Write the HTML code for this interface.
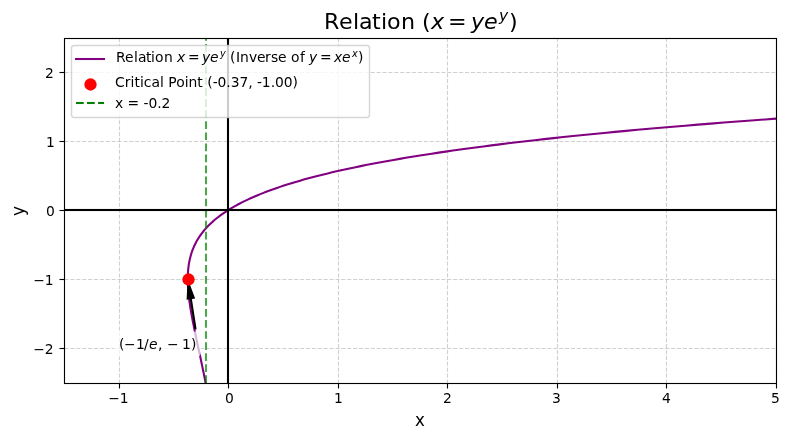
<!DOCTYPE html>
<html lang="en">
<head>
<meta charset="utf-8">
<title>Relation (x = ye^y)</title>
<style>
html, body { margin: 0; padding: 0; background: #ffffff; }
body { width: 790px; height: 440px; overflow: hidden; }
svg { display: block; }
text { white-space: pre; }
</style>
</head>
<body>
<svg width="790" height="440" viewBox="0 0 790 440" font-family="'DejaVu Sans', 'Liberation Sans', sans-serif" fill="#000000">
<rect width="790" height="440" fill="#ffffff"/>
<g class="grid" fill="none" stroke="#b0b0b0" stroke-opacity="0.6" stroke-width="1.111" stroke-dasharray="4.111 1.778">
<path d="M119.5 383.5V38.5"/>
<path d="M228.5 383.5V38.5"/>
<path d="M338.5 383.5V38.5"/>
<path d="M447.5 383.5V38.5"/>
<path d="M557.5 383.5V38.5"/>
<path d="M666.5 383.5V38.5"/>
<path d="M776.5 383.5V38.5"/>
<path d="M64.5 348.5H776.5"/>
<path d="M64.5 279.5H776.5"/>
<path d="M64.5 210.5H776.5"/>
<path d="M64.5 141.5H776.5"/>
<path d="M64.5 72.5H776.5"/>
</g>
<svg class="plot" x="64" y="38" width="712" height="345" viewBox="64 38 712 345" overflow="hidden">
<path class="curve" d="M208.912 400.62L208.728 399.583L208.543 398.545L208.356 397.507L208.169 396.47L207.98 395.432L207.79 394.395L207.599 393.357L207.407 392.32L207.213 391.282L207.019 390.245L206.823 389.207L206.627 388.169L206.429 387.132L206.23 386.094L206.03 385.057L205.829 384.019L205.627 382.982L205.424 381.944L205.22 380.906L205.015 379.869L204.809 378.831L204.602 377.794L204.394 376.756L204.185 375.719L203.976 374.681L203.765 373.644L203.554 372.606L203.341 371.568L203.128 370.531L202.915 369.493L202.7 368.456L202.485 367.418L202.269 366.381L202.052 365.343L201.834 364.306L201.616 363.268L201.398 362.23L201.179 361.193L200.959 360.155L200.739 359.118L200.518 358.08L200.297 357.043L200.076 356.005L199.854 354.967L199.632 353.93L199.41 352.892L199.187 351.855L198.965 350.817L198.742 349.78L198.519 348.742L198.296 347.705L198.073 346.667L197.851 345.629L197.628 344.592L197.406 343.554L197.183 342.517L196.961 341.479L196.74 340.442L196.519 339.404L196.298 338.367L196.078 337.329L195.859 336.291L195.64 335.254L195.422 334.216L195.205 333.179L194.988 332.141L194.773 331.104L194.559 330.066L194.346 329.028L194.134 327.991L193.923 326.953L193.714 325.916L193.507 324.878L193.301 323.841L193.096 322.803L192.894 321.766L192.693 320.728L192.494 319.69L192.298 318.653L192.103 317.615L191.911 316.578L191.722 315.54L191.535 314.503L191.35 313.465L191.169 312.427L190.99 311.39L190.814 310.352L190.642 309.315L190.473 308.277L190.307 307.24L190.145 306.202L189.987 305.165L189.832 304.127L189.682 303.089L189.536 302.052L189.394 301.014L189.257 299.977L189.124 298.939L188.997 297.902L188.874 296.864L188.757 295.827L188.645 294.789L188.539 293.751L188.438 292.714L188.344 291.676L188.256 290.639L188.174 289.601L188.099 288.564L188.031 287.526L187.97 286.488L187.916 285.451L187.87 284.413L187.832 283.376L187.802 282.338L187.78 281.301L187.766 280.263L187.762 279.226L187.767 278.188L187.781 277.15L187.804 276.113L187.838 275.075L187.882 274.038L187.936 273L188.001 271.963L188.078 270.925L188.166 269.888L188.266 268.85L188.378 267.812L188.502 266.775L188.64 265.737L188.791 264.7L188.955 263.662L189.133 262.625L189.326 261.587L189.533 260.549L189.756 259.512L189.994 258.474L190.248 257.437L190.519 256.399L190.806 255.362L191.111 254.324L191.434 253.287L191.775 252.249L192.135 251.211L192.513 250.174L192.912 249.136L193.331 248.099L193.77 247.061L194.231 246.024L194.714 244.986L195.219 243.948L195.747 242.911L196.299 241.873L196.874 240.836L197.475 239.798L198.101 238.761L198.753 237.723L199.431 236.686L200.137 235.648L200.87 234.61L201.633 233.573L202.424 232.535L203.246 231.498L204.098 230.46L204.982 229.423L205.899 228.385L206.848 227.348L207.831 226.31L208.849 225.272L209.903 224.235L210.992 223.197L212.119 222.16L213.284 221.122L214.488 220.085L215.732 219.047L217.016 218.009L218.343 216.972L219.712 215.934L221.124 214.897L222.582 213.859L224.085 212.822L225.635 211.784L227.233 210.747L228.88 209.709L230.577 208.671L232.325 207.634L234.126 206.596L235.98 205.559L237.889 204.521L239.854 203.484L241.876 202.446L243.957 201.409L246.098 200.371L248.3 199.333L250.564 198.296L252.893 197.258L255.287 196.221L257.747 195.183L260.276 194.146L262.875 193.108L265.546 192.07L268.289 191.033L271.106 189.995L274 188.958L276.972 187.92L280.023 186.883L283.155 185.845L286.371 184.808L289.671 183.77L293.058 182.732L296.533 181.695L300.098 180.657L303.756 179.62L307.509 178.582L311.357 177.545L315.304 176.507L319.351 175.469L323.501 174.432L327.756 173.394L332.118 172.357L336.589 171.319L341.172 170.282L345.869 169.244L350.682 168.207L355.614 167.169L360.667 166.131L365.844 165.094L371.147 164.056L376.579 163.019L382.144 161.981L387.842 160.944L393.679 159.906L399.655 158.869L405.774 157.831L412.039 156.793L418.454 155.756L425.02 154.718L431.742 153.681L438.622 152.643L445.664 151.606L452.871 150.568L460.247 149.53L467.794 148.493L475.517 147.455L483.419 146.418L491.503 145.38L499.774 144.343L508.235 143.305L516.89 142.268L525.743 141.23L534.798 140.192L544.058 139.155L553.529 138.117L563.215 137.08L573.119 136.042L583.247 135.005L593.602 133.967L604.189 132.93L615.014 131.892L626.08 130.854L637.392 129.817L648.956 128.779L660.776 127.742L672.858 126.704L685.207 125.667L697.828 124.629L710.726 123.591L723.907 122.554L737.377 121.516L751.141 120.479L765.206 119.441L779.576 118.404L794.259 117.366L809.26 116.329" fill="none" stroke="#800080" stroke-width="2.083" stroke-linejoin="round" stroke-linecap="square"/>
<path class="vline" d="M206 383V38" fill="none" stroke="#008000" stroke-opacity="0.7" stroke-width="2.083" stroke-dasharray="7.708 3.333"/>
<g class="zero" fill="#000000">
<rect x="60" y="208" width="720" height="4" fill-opacity="0.045"/>
<rect x="60" y="209" width="720" height="2"/>
<rect x="226" y="30" width="4" height="360" fill-opacity="0.045"/>
<rect x="227" y="30" width="2" height="360"/>
</g>
</svg>
<g class="ticks" stroke="#000000" stroke-width="1.111" fill="none">
<path d="M119.5 383.5V388.5"/>
<path d="M228.5 383.5V388.5"/>
<path d="M338.5 383.5V388.5"/>
<path d="M447.5 383.5V388.5"/>
<path d="M557.5 383.5V388.5"/>
<path d="M666.5 383.5V388.5"/>
<path d="M776.5 383.5V388.5"/>
<path d="M64.5 348.5H59.5"/>
<path d="M64.5 279.5H59.5"/>
<path d="M64.5 210.5H59.5"/>
<path d="M64.5 141.5H59.5"/>
<path d="M64.5 72.5H59.5"/>
</g>
<rect class="spines" x="64.5" y="38.5" width="712" height="345" fill="none" stroke="#000000" stroke-width="1.111"/>
<g class="ticklabels" font-size="13.889">
<text x="108.125 119.75" y="403">−1</text>
<text x="224.875" y="403">0</text>
<text x="333.875" y="403">1</text>
<text x="443" y="403">2</text>
<text x="552" y="403">3</text>
<text x="662" y="403">4</text>
<text x="771" y="403">5</text>
<text x="33.125 44.75" y="354">−2</text>
<text x="33.125 44.75" y="285">−1</text>
<text x="45.875" y="216">0</text>
<text x="45.875" y="147">1</text>
<text x="45" y="78">2</text>
</g>
<text class="xlabel" transform="translate(419.951 426) scale(1 1.1)" text-anchor="middle" font-size="16.667">x</text>
<text class="ylabel" transform="translate(24.25 210.978) rotate(-90) scale(1.02 1.08)" text-anchor="middle" font-size="16.667">y</text>
<path class="arrow" d="M195.124 328.734 Q192.774 313.651 190.424 298.567 L187.336 299.048 Q187.769 290.548 188.202 282.048 Q191.2 290.013 194.198 297.979 L191.11 298.46 Q193.46 313.544 195.81 328.628 L195.124 328.734 Z" fill="#000000" stroke="#000000" stroke-width="1.389" stroke-linejoin="miter"/>
<path class="annbox" d="M118.317 356.837 L196.556 356.837 Q200.723 356.837 200.723 352.67 L200.723 335.67 Q200.723 331.503 196.556 331.503 L118.317 331.503 Q114.151 331.503 114.151 335.67 L114.151 352.67 Q114.151 356.837 118.317 356.837 Z" fill="#ffffff" fill-opacity="0.7"/>
<text class="annot" font-size="13.889" xml:space="preserve"><tspan x="118.875 123.875 135.875 143.875" y="349">(−1/</tspan><tspan x="148.875" y="349" font-style="italic">e</tspan><tspan x="157.875 161.875 166.875 181.875 190.875" y="349">, −1)</tspan></text>
<circle class="pt" cx="188.5" cy="279.5" r="6.15" fill="#ff0000"/>
<g class="legend" font-size="13.889">
<path class="frame" d="M74.278 117.5L366.722 117.5Q369.5 117.5 369.5 114.722L369.5 48.278Q369.5 45.5 366.722 45.5L74.278 45.5Q71.5 45.5 71.5 48.278L71.5 114.722Q71.5 117.5 74.278 117.5Z" fill="#ffffff" fill-opacity="0.8" stroke="#cccccc" stroke-opacity="0.8" stroke-width="1.389" stroke-linejoin="miter"/>
<path d="M76 59H104" fill="none" stroke="#800080" stroke-width="2.083" stroke-linecap="square"/>
<circle cx="90.5" cy="84.5" r="6.15" fill="#ff0000"/>
<g fill="none" stroke="#008000" stroke-dasharray="7.708 3.333">
<path d="M76 103H104" stroke-opacity="0.045" stroke-width="4"/>
<path d="M76 103H104" stroke-width="2"/>
</g>
<text class="leg0" font-size="13.889" xml:space="preserve"><tspan x="115.875 124.875 133.875 137.875 145.875 150.875 154.875 163.875 172.875" y="62">Relation </tspan><tspan x="176.875" y="62" font-style="italic">x</tspan><tspan x="184.875 187.875 199.875" y="62"> = </tspan><tspan x="201.875 209.875" y="62" font-style="italic">ye</tspan><tspan x="219.875" y="57" font-style="italic" font-size="9.722">y</tspan><tspan x="225.875 229.875 235.875 239.875 248.875 256.875 264.875 270.875 277.875 286.875 290.875 299.875 304.875" y="62"> (Inverse of </tspan><tspan x="308.875" y="62" font-style="italic">y</tspan><tspan x="316.875 319.875 330.875" y="62"> = </tspan><tspan x="333.875 341.875" y="62" font-style="italic">xe</tspan><tspan x="351.875" y="57" font-style="italic" font-size="9.722">x</tspan><tspan x="357.875" y="62">)</tspan></text>
<text class="leg1" x="115 124.75 130.5 134.375 139.875 143.75 151.375 160 163.875 168.25 176.125 184.625 188.5 197.25 202.75 207.125 212.625 217.5 226.25 230.625 239.375 248.125 252.5 256.875 261.75 270.625 275 283.75 292.5" y="87" xml:space="preserve">Critical Point (-0.37, -1.00)</text>
<text class="leg2" x="114.875 123.125 127.5 139.125 143.5 148.375 157.125 161.5" y="108" xml:space="preserve">x = -0.2</text>
</g>
<g transform="translate(0 29) scale(1 0.98)">
<text class="title" font-size="22.222" xml:space="preserve"><tspan x="324 339 353 359 372 381 387 401 415 422" y="0">Relation (</tspan><tspan x="431" y="0" font-style="italic">x</tspan><tspan x="444 448 467" y="0"> = </tspan><tspan x="471 484" y="0" font-style="italic">ye</tspan><tspan x="499" y="-8" font-style="italic" font-size="15.556">y</tspan><tspan x="509" y="0">)</tspan></text>
</g>
</svg>
</body>
</html>
